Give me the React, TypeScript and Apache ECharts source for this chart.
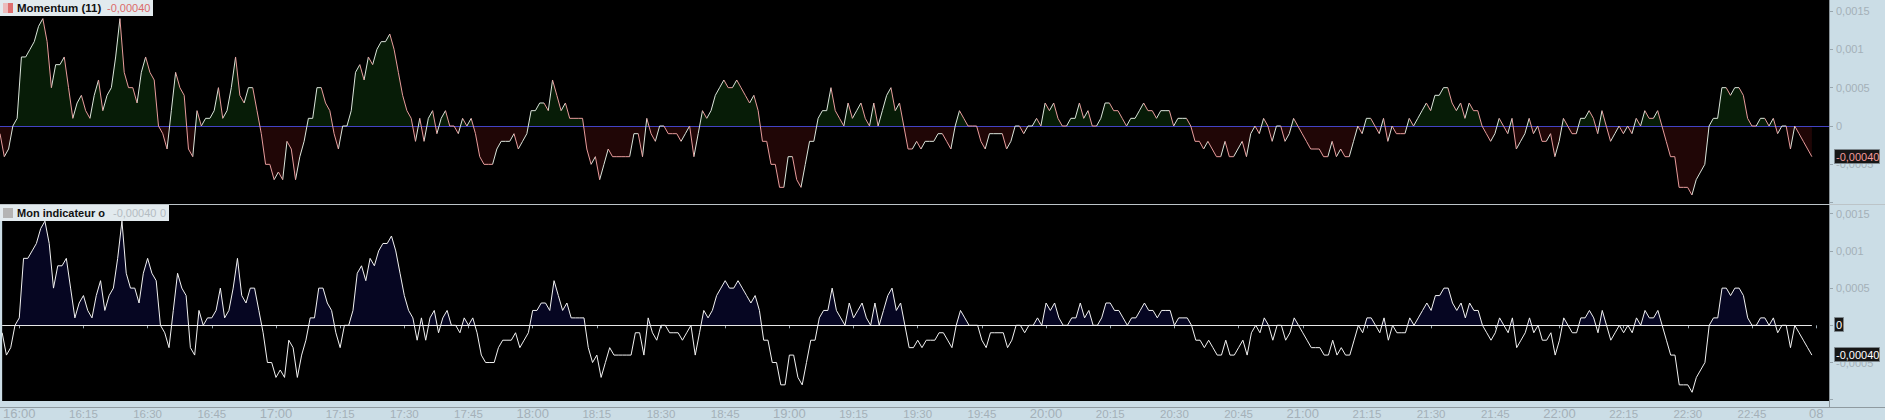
import React, { useEffect, useRef } from 'react';
import * as echarts from 'echarts';

// ---- time axis (1-minute bars) ----
const SESSION_START = '15:56';
const SESSION_END = '22:59';
const NEXT_SESSION_SLOTS = ['08:00', '08:01', '08:02', '08:03'];
const NEXT_SESSION_LABEL = '08';

// ---- Momentum (11), in units of 0.0001 ----
const PIP = 0.0001;
const momentumPips: number[] = [
  -1, -4, -3, 0, 1, 9, 9, 10, 11, 13, 14, 11, 5, 8, 8, 9, 5, 1, 3, 4,
  2, 1, 4, 6, 2, 4, 5, 9, 14, 7, 5, 5, 3, 7, 9, 7, 6, 0, -1, -3,
  2, 7, 5, 4, -3, -4, 2, 0, 1, 1, 2, 5, 1, 2, 5, 9, 4, 3, 5, 5,
  2, -1, -5, -5, -7, -6, -7, -2, -3, -7, -4, -2, 1, 1, 5, 5, 3, 2, -1, -3,
  0, 0, 2, 7, 8, 6, 9,
  8, 10, 11, 11, 12, 10, 7, 4, 2, 1, -2, 1, -2, 1, 2, -1, 1, 2, 0, 0,
  -1, 1, 0, 1, -1, -4, -5, -5, -5, -3, -2, -2, -2, -1, -3, -2, -1, 2, 2, 3,
  3, 2, 6, 4, 2, 3, 1, 1, 1, 1, -3, -5, -4, -7, -5, -3, -4, -4, -4, -4,
  -4, -1, -1, -4, 1, -1, -2, 0, 0, -1, -1, -1, -2, -1, 0, -4, -1, 2, 1, 2,
  4, 5, 6, 5, 5,
  6, 5, 4, 3, 4, 2, -2, -2, -5, -5, -8, -8, -4, -4, -7, -8, -5, -2, -2, 1,
  2, 2, 5, 2, 1, 0, 3, 1, 2, 3, 1, 0, 3, 0, 2, 4, 5, 2, 3, 0,
  -3, -3, -2, -3, -2, -2, -2, -1, -1, -2, -3, 0, 2, 1, 0, 0, 0, -2, -3, -1,
  -1, -1, -1, -3, -2, 0, 0, -1, 0, 0, 1, 0, 3, 2, 3, 1, 0, 0, 1, 1,
  3, 1, 2, 0, 0, 1,
  3, 3, 2, 2, 1, 0, 1, 1, 2, 3, 2, 2, 1, 2, 2, 2, 0, 1, 1, 1,
  0, -2, -2, -3, -2, -3, -4, -4, -2, -4, -4, -3, -2, -4, -1, 0, -1, 1, 0, -2,
  0, 0, -2, -1, 1, 0, -1, -2, -3, -3, -3, -4, -4, -2, -4, -3, -4, -4, -2, 0,
  -1, 1, 1, 0, -1, 1, -2, 0, -1, -1, -1, 1, 0, 1, 2, 3, 2, 4, 4, 5,
  5, 3, 2, 3,
  1, 3, 2, 2, 0, -1, -2, -1, 1, 0, -1, 1, -3, -2, -1, 1, -1, 0, -2, -2,
  -1, -4, -2, 1, 0, -1, -1, 1, 1, 2, 1, -1, 2, 0, -2, -1, 0, -1, 0, -1,
  1, 0, 2, 1, 1, 2, 0, -2, -4, -4, -8, -8, -8, -9, -7, -6, -5, 0, 1, 1,
  5, 5, 4, 5, 5, 4, 1, 0, 0, 1, 1, 0, 1, -1, 0, 0, -3, 0, -1, -2,
  -3, -4,
];
const zeroLevel = 0;

// ---- value axis tick labels ----
const yTickValues = [-0.0005, 0, 0.0005, 0.001, 0.0015];
const topRange = { min: -0.001017, max: 0.001643 };
const bottomRange = { min: -0.001017, max: 0.001617 };

// ---- colours ----
const AXIS_BG = '#cbdde6';
const AXIS_TEXT = '#a4b0b8';
const AXIS_TICK = '#98a6ae';
const UP_LINE = '#dce6dc';
const DOWN_LINE = '#e89c9c';
const POS_FILL = '#071c07';
const NEG_FILL = '#200606';
const NAVY_FILL = '#060622';
const ZERO_BLUE = '#4343c4';
const FONT = 'Arial, "Liberation Sans", sans-serif';

const pad = (n: number) => (n < 10 ? '0' + n : '' + n);
function buildCategories(): string[] {
  const [sh, sm] = SESSION_START.split(':').map(Number);
  const [eh, em] = SESSION_END.split(':').map(Number);
  const out: string[] = [];
  for (let t = sh * 60 + sm; t <= eh * 60 + em; t++) out.push(pad(Math.floor(t / 60)) + ':' + pad(t % 60));
  return out.concat(NEXT_SESSION_SLOTS);
}

const fmtNum = (v: number) => String(v).replace('.', ',');
const yLabel = (v: number) => {
  const hit = yTickValues.find((t) => Math.abs(t - v) < 1e-9);
  return hit === undefined ? '' : fmtNum(hit);
};

export default function App() {
  const ref = useRef<HTMLDivElement>(null);
  useEffect(() => {
    if (!ref.current) return;
    const chart = echarts.init(ref.current, undefined, { renderer: 'svg' });
    const categories = buildCategories();
    const values = momentumPips.map((k) => k * PIP);
    const n = values.length;

    // split the polyline into rising / falling pieces (flat keeps previous direction)
    const upData: any[] = [];
    const downData: any[] = [];
    let rising = true;
    for (let i = 0; i < n - 1; i++) {
      const a = values[i];
      const b = values[i + 1];
      if (b > a) rising = true;
      else if (b < a) rising = false;
      const target = rising ? upData : downData;
      target.push([i, a], [i + 1, b], [i + 1, null]);
    }
    const plainData = values.map((v, i) => [i, v]);

    const showTick = (_: number, value: string) =>
      /:(00|15|30|45)$/.test(value) && (NEXT_SESSION_SLOTS.indexOf(value) < 0 || value === NEXT_SESSION_SLOTS[0]);

    const xLabel = (v: string) => {
      if (v === NEXT_SESSION_SLOTS[0]) return '{h|' + NEXT_SESSION_LABEL + '}';
      return /:00$/.test(v) ? '{h|' + v + '}' : '{q|' + v + '}';
    };

    const yAxisBase = (gridIndex: number, range: { min: number; max: number }) => ({
      type: 'value',
      gridIndex,
      position: 'right',
      min: range.min,
      max: range.max,
      splitNumber: 5,
      axisLine: { show: false },
      axisTick: { show: true, length: 4, lineStyle: { color: AXIS_TICK } },
      axisLabel: {
        margin: 7,
        color: AXIS_TEXT,
        fontSize: 11,
        fontFamily: FONT,
        showMinLabel: false,
        showMaxLabel: false,
        formatter: yLabel,
      },
      splitLine: { show: false },
    });

    const lineSeries = (xi: number, data: any[], color: string) => ({
      type: 'line',
      xAxisIndex: xi,
      yAxisIndex: xi,
      data,
      symbol: 'none',
      showSymbol: false,
      connectNulls: false,
      lineStyle: { width: 1, color },
      z: 10,
    });

    chart.setOption({
      animation: false,
      backgroundColor: AXIS_BG,
      grid: [
        { left: 0, right: 56, top: 0, height: 204, show: true, backgroundColor: '#000', borderWidth: 0 },
        { left: 0, right: 56, top: 205, height: 202, show: true, backgroundColor: '#000', borderWidth: 0 },
      ],
      xAxis: [
        { type: 'category', gridIndex: 0, data: categories, boundaryGap: false, show: false },
        {
          type: 'category',
          gridIndex: 1,
          data: categories,
          boundaryGap: false,
          axisLine: { show: false },
          axisTick: { show: true, interval: showTick, length: 3, lineStyle: { color: AXIS_TICK } },
          axisLabel: {
            interval: showTick,
            margin: 6,
            color: AXIS_TEXT,
            fontFamily: FONT,
            formatter: xLabel,
            rich: {
              h: { fontSize: 13, color: AXIS_TEXT, fontFamily: FONT },
              q: { fontSize: 11.5, color: AXIS_TEXT, fontFamily: FONT, padding: [1, 0, 0, 0] },
            },
          },
          splitLine: { show: false },
        },
      ],
      yAxis: [yAxisBase(0, topRange), yAxisBase(1, bottomRange)],
      visualMap: [
        {
          show: false,
          type: 'piecewise',
          seriesIndex: 0,
          dimension: 1,
          pieces: [
            { gte: -1, lt: 0, color: NEG_FILL },
            { gte: 0, lte: 1, color: POS_FILL },
          ],
        },
        {
          show: false,
          type: 'piecewise',
          seriesIndex: 3,
          dimension: 1,
          pieces: [
            { gte: -1, lt: 0, color: 'rgba(0,0,0,0)' },
            { gte: 0, lte: 1, color: NAVY_FILL },
          ],
        },
      ],
      series: [
        {
          type: 'line',
          xAxisIndex: 0,
          yAxisIndex: 0,
          data: plainData,
          symbol: 'none',
          showSymbol: false,
          lineStyle: { width: 0, opacity: 0 },
          areaStyle: { opacity: 1 },
          z: 1,
        },
        lineSeries(0, upData, UP_LINE),
        lineSeries(0, downData, DOWN_LINE),
        {
          type: 'line',
          xAxisIndex: 1,
          yAxisIndex: 1,
          data: plainData,
          symbol: 'none',
          showSymbol: false,
          lineStyle: { width: 0, opacity: 0 },
          areaStyle: { opacity: 1 },
          z: 1,
        },
        lineSeries(1, plainData, '#f2f2f2'),
      ],
    });

    const last = values[n - 1];
    const lastText = last.toFixed(5).replace('.', ',');
    const yTopLast = chart.convertToPixel({ yAxisIndex: 0 } as any, last) as number;
    const yTopZero = chart.convertToPixel({ yAxisIndex: 0 } as any, zeroLevel) as number;
    const yBotLast = chart.convertToPixel({ yAxisIndex: 1 } as any, last) as number;
    const yBotZero = chart.convertToPixel({ yAxisIndex: 1 } as any, zeroLevel) as number;
    const xFirst = chart.convertToPixel({ xAxisIndex: 1 } as any, 0) as number;
    const xLast = chart.convertToPixel({ xAxisIndex: 1 } as any, n - 1) as number;

    const valueBox = (y: number, text: string, color: string, w: number) => [
      {
        type: 'rect',
        z: 100,
        shape: { x: 1834.5, y: Math.round(y) - 7.5, width: w, height: 14 },
        style: { fill: '#161616', stroke: '#7c868c', lineWidth: 1 },
      },
      {
        type: 'text',
        z: 101,
        x: 1836,
        y: Math.round(y),
        style: { text, fill: color, fontSize: 11, fontFamily: FONT, align: 'left', verticalAlign: 'middle' },
      },
    ];

    chart.setOption({
      graphic: [
        { type: 'line', z: 5, shape: { x1: 0, y1: Math.round(yTopZero) + 0.5, x2: 1829, y2: Math.round(yTopZero) + 0.5 }, style: { stroke: ZERO_BLUE, lineWidth: 1 } },
        { type: 'line', z: 5, shape: { x1: xFirst, y1: Math.round(yBotZero) + 0.5, x2: xLast, y2: Math.round(yBotZero) + 0.5 }, style: { stroke: '#e8e8e8', lineWidth: 1 } },
        { type: 'line', z: 90, shape: { x1: 1829.5, y1: 0, x2: 1829.5, y2: 407 }, style: { stroke: '#8a949a', lineWidth: 1 } },
        { type: 'line', z: 90, shape: { x1: 0, y1: 204.5, x2: 1885, y2: 204.5 }, style: { stroke: '#bcc4c8', lineWidth: 1 } },
        { type: 'line', z: 90, shape: { x1: 0, y1: 407.5, x2: 1885, y2: 407.5 }, style: { stroke: '#8f9aa0', lineWidth: 1 } },
        { type: 'rect', z: 100, shape: { x: 0, y: 0, width: 153, height: 16 }, style: { fill: '#e2eaee' } },
        { type: 'rect', z: 101, shape: { x: 3, y: 3, width: 5, height: 10 }, style: { fill: '#ebbcbc' } },
        { type: 'rect', z: 101, shape: { x: 8, y: 3, width: 5, height: 10 }, style: { fill: '#de6e6e' } },
        {
          type: 'text', z: 101, x: 17, y: 8,
          style: { text: 'Momentum (11)', fill: '#111', fontSize: 11.5, fontWeight: 'bold', fontFamily: FONT, verticalAlign: 'middle' },
        },
        {
          type: 'text', z: 101, x: 107, y: 8,
          style: { text: lastText, fill: '#dc6a6a', fontSize: 11, fontFamily: FONT, verticalAlign: 'middle' },
        },
        { type: 'rect', z: 100, shape: { x: 0, y: 205, width: 169, height: 16 }, style: { fill: '#e2eaee' } },
        { type: 'rect', z: 101, shape: { x: 3, y: 208, width: 10, height: 10 }, style: { fill: '#b4b4b4' } },
        {
          type: 'text', z: 101, x: 17, y: 213,
          style: { text: 'Mon indicateur o', fill: '#111', fontSize: 11, fontWeight: 'bold', fontFamily: FONT, verticalAlign: 'middle' },
        },
        {
          type: 'text', z: 101, x: 113, y: 213,
          style: { text: lastText, fill: '#b4bcc2', fontSize: 11, fontFamily: FONT, verticalAlign: 'middle' },
        },
        {
          type: 'text', z: 101, x: 160, y: 213,
          style: { text: fmtNum(zeroLevel), fill: '#b4bcc2', fontSize: 11, fontFamily: FONT, verticalAlign: 'middle' },
        },
        ...valueBox(yTopLast, lastText, '#f29a9a', 45),
        ...valueBox(yBotZero, fmtNum(zeroLevel), '#ffffff', 9),
        ...valueBox(yBotLast, lastText, '#ffffff', 45),
      ],
    });

    return () => chart.dispose();
  }, []);

  return <div ref={ref} style={{ position: 'absolute', left: 0, top: 0, width: 1885, height: 420 }} />;
}
